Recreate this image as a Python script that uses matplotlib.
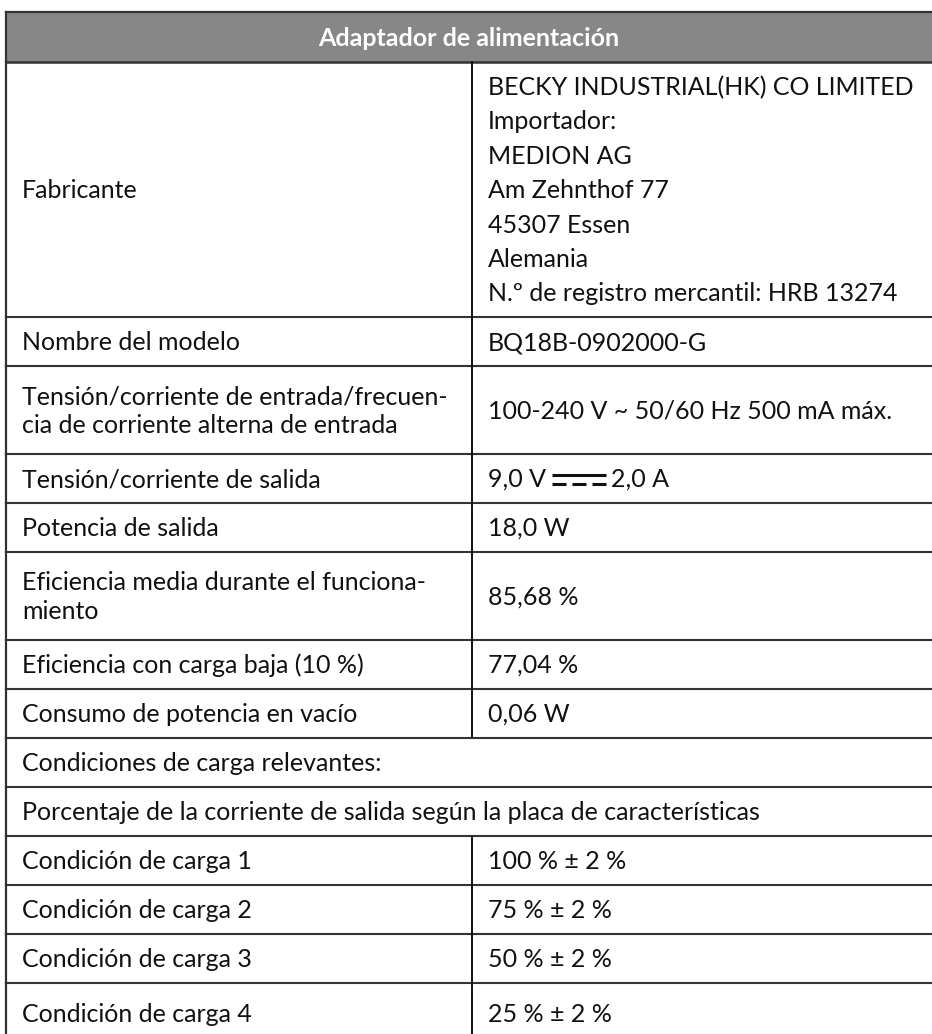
import matplotlib
matplotlib.use("Agg")
import matplotlib.pyplot as plt

# ---- table content ----
header_title = "Adaptador de alimentación"

left_labels = [
    "Fabricante",
    "Nombre del modelo",
    "Tensión/corriente de entrada/frecuen-\ncia de corriente alterna de entrada",
    "Tensión/corriente de salida",
    "Potencia de salida",
    "Eficiencia media durante el funciona-\nmiento",
    "Eficiencia con carga baja (10 %)",
    "Consumo de potencia en vacío",
    "Condiciones de carga relevantes:",
    "Porcentaje de la corriente de salida según la placa de características",
    "Condición de carga 1",
    "Condición de carga 2",
    "Condición de carga 3",
    "Condición de carga 4",
]

right_values = [
    "BECKY INDUSTRIAL(HK) CO LIMITED\nImportador:\nMEDION AG\nAm Zehnthof 77\n45307 Essen\nAlemania\nN.º de registro mercantil: HRB 13274",
    "BQ18B-0902000-G",
    "100-240 V ~ 50/60 Hz 500 mA máx.",
    "DC",
    "18,0 W",
    "85,68 %",
    "77,04 %",
    "0,06 W",
    None,
    None,
    "100 % ± 2 %",
    "75 % ± 2 %",
    "50 % ± 2 %",
    "25 % ± 2 %",
]

dc_left = "9,0 V"
dc_right = "2,0 A"

# ---- layout (pixels) ----
W, H = 932, 1034
x_left, x_div, x_right = 6, 472, 932
y_top, y_head = 12, 62
row_heights = [255, 49, 88, 49, 49, 88, 49, 49, 49, 49, 49, 49, 49, 60]

FONT = "Lato"
FS = 18
TXT = "#111111"
LINE = "#333333"

fig = plt.figure(figsize=(W / 100, H / 100), dpi=100)
ax = fig.add_axes([0, 0, 1, 1])
ax.set_xlim(0, W)
ax.set_ylim(H, 0)
ax.axis("off")
renderer = fig.canvas.get_renderer()


def px_extent(t):
    bb = t.get_window_extent(renderer=renderer)
    inv = ax.transData.inverted()
    (x0, _), (x1, _) = inv.transform([[bb.x0, bb.y0], [bb.x1, bb.y1]])
    return x0, x1


# header band
ax.add_patch(plt.Rectangle((x_left, y_top), x_right - x_left, y_head - y_top,
                           facecolor="#878787", edgecolor="none"))
ax.plot([x_left, x_right], [y_top, y_top], color=LINE, lw=1.6)
ax.plot([x_left, x_right], [y_head, y_head], color=LINE, lw=1.8)
ax.plot([x_left, x_left], [y_top, y_head], color=LINE, lw=1.6)
ax.text((x_left + x_right) / 2, (y_top + y_head) / 2 + 1, header_title,
        ha="center", va="center", color="white", fontsize=FS,
        fontweight="bold", family=FONT)

y = y_head
for i, (lab, val) in enumerate(zip(left_labels, right_values)):
    h = row_heights[i]
    y0, y1 = y, y + h
    yc = (y0 + y1) / 2
    full = val is None
    ax.plot([x_left, x_left], [y0, min(y1, H)], color=LINE, lw=1.6)
    if not full:
        ax.plot([x_div, x_div], [y0, min(y1, H)], color="#111111", lw=1.4)
    if y1 < H:
        ax.plot([x_left, x_right], [y1, y1], color=LINE, lw=1.5)
    ax.text(22, yc + 1, lab, ha="left", va="center", color=TXT, fontsize=FS,
            family=FONT, linespacing=1.27)
    if full:
        pass
    elif val == "DC":
        t1 = ax.text(488, yc + 1, dc_left, ha="left", va="center", color=TXT,
                     fontsize=FS, family=FONT)
        _, e = px_extent(t1)
        sx0 = e + 6
        sw = 54
        ax.plot([sx0, sx0 + sw], [yc - 4, yc - 4], color=TXT, lw=2.2,
                solid_capstyle="butt")
        dash = 14
        gap = (sw - 3 * dash) / 2
        for k in range(3):
            d0 = sx0 + k * (dash + gap)
            ax.plot([d0, d0 + dash], [yc + 5, yc + 5], color=TXT, lw=2.2,
                    solid_capstyle="butt")
        ax.text(sx0 + sw + 5, yc + 1, dc_right, ha="left", va="center",
                color=TXT, fontsize=FS, family=FONT)
    else:
        ax.text(488, yc + 1, val, ha="left", va="center", color=TXT,
                fontsize=FS, family=FONT, linespacing=1.6)
    y = y1

fig.savefig("out.png", dpi=100)
